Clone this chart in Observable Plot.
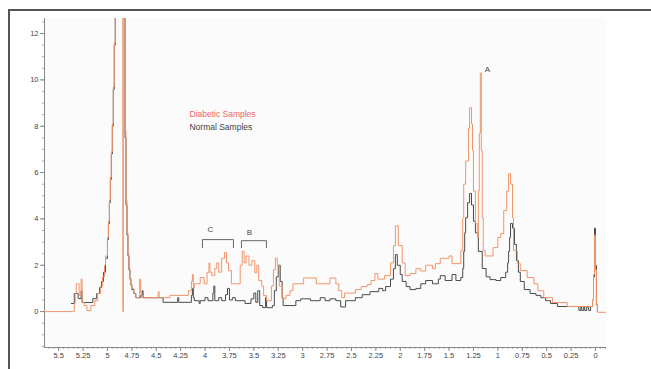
<!DOCTYPE html>
<html><head><meta charset="utf-8">
<script src="https://cdn.jsdelivr.net/npm/d3@7"></script>
<script src="https://cdn.jsdelivr.net/npm/@observablehq/plot@0.6"></script>
<style>
body{margin:0;background:#fff;font-family:"Liberation Sans",Arial,sans-serif}
#wrap{position:relative;width:651px;height:369px;overflow:hidden}
#border{position:absolute;left:8px;top:9px;width:700px;height:400px;border-left:2px solid #555;border-top:2px solid #555;pointer-events:none}
</style></head><body><div id="wrap"><div id="chart"></div><div id="border"></div></div>
<script>
// Normal samples (black)
const normalPpm = [5.37,5.34,5.30,5.27,5.26,5.15,5.11,5.08,5.06,5.04,5.02,5.00,4.99,4.98,4.97,4.96,4.95,4.94,4.93,4.92,4.91,4.90,4.88,4.84,4.83,4.82,4.81,4.80,4.79,4.78,4.77,4.76,4.75,4.73,4.71,4.66,4.645,4.635,4.43,4.28,4.27,4.14,4.13,4.12,4.11,4.06,4.05,4.00,3.97,3.92,3.91,3.90,3.86,3.83,3.79,3.77,3.75,3.72,3.69,3.59,3.53,3.50,3.48,3.46,3.44,3.41,3.38,3.37,3.31,3.29,3.27,3.25,3.23,3.21,3.20,3.13,3.07,3.02,2.92,2.82,2.77,2.72,2.66,2.61,2.56,2.46,2.39,2.31,2.22,2.18,2.15,2.10,2.07,2.05,2.03,2.00,1.98,1.94,1.90,1.84,1.79,1.74,1.67,1.61,1.59,1.54,1.47,1.43,1.38,1.36,1.35,1.34,1.33,1.31,1.29,1.27,1.25,1.23,1.20,1.16,1.12,1.08,1.02,0.97,0.92,0.90,0.89,0.88,0.87,0.85,0.83,0.81,0.79,0.77,0.73,0.67,0.61,0.56,0.51,0.46,0.39,0.17,0.15,0.14,0.12,0.11,0.09,0.07,0.05,0.03,0.02,0.01,0.00,-0.01,-0.02];
const normalInt = [0.35,0.78,0.56,0.9,0.39,0.56,0.78,1.04,1.3,1.7,2.3,3.1,3.8,4.7,5.7,6.8,8.0,9.6,11.5,14,18,25,40,40,14,7.5,4.6,3.3,2.4,1.8,1.4,1.15,0.95,0.78,0.6,0.7,0.9,0.6,0.4,0.6,0.4,0.7,1.0,0.6,0.47,0.35,0.47,0.6,0.47,0.8,1.1,0.47,0.6,0.47,0.73,1.0,0.5,0.6,0.47,0.35,0.55,0.8,0.4,0.9,0.26,0.17,0.6,0.17,0.26,0.9,1.5,2.0,1.3,0.6,0.26,0.26,0.47,0.55,0.47,0.6,0.47,0.55,0.47,0.2,0.47,0.6,0.73,0.86,1.0,0.9,1.08,1.4,1.85,2.46,2.0,1.6,1.3,1.08,0.95,1.0,1.2,1.34,1.2,1.4,1.55,1.34,1.6,1.34,1.47,1.86,2.6,3.4,4.05,4.7,5.1,4.6,3.9,3.4,2.6,1.86,1.5,1.38,1.34,1.47,1.7,2.1,2.6,3.2,3.8,3.6,2.9,2.2,1.7,1.3,0.95,0.78,0.7,0.6,0.47,0.35,0.22,0.05,0.2,0.05,0.2,0.05,0.2,0.05,0.22,0.5,1.5,3.6,2.0,0.3,0.0];

// Diabetic samples (orange)
const diabeticPpm = [5.645,5.36,5.34,5.33,5.32,5.29,5.27,5.26,5.24,5.21,5.17,5.13,5.10,5.07,5.05,5.03,5.02,5.00,4.99,4.98,4.97,4.96,4.95,4.94,4.93,4.92,4.91,4.90,4.88,4.842,4.838,4.83,4.82,4.81,4.80,4.79,4.78,4.77,4.76,4.75,4.73,4.71,4.67,4.66,4.65,4.48,4.47,4.36,4.17,4.14,4.13,4.12,4.11,4.05,4.01,3.98,3.96,3.95,3.93,3.90,3.88,3.86,3.83,3.80,3.78,3.76,3.73,3.64,3.62,3.60,3.58,3.55,3.52,3.49,3.47,3.45,3.42,3.40,3.37,3.32,3.30,3.28,3.26,3.24,3.21,3.17,3.13,3.10,2.99,2.86,2.72,2.66,2.63,2.60,2.57,2.46,2.40,2.34,2.30,2.26,2.23,2.16,2.10,2.07,2.05,2.02,1.98,1.95,1.90,1.84,1.79,1.74,1.67,1.64,1.59,1.50,1.47,1.38,1.36,1.35,1.33,1.30,1.29,1.27,1.26,1.25,1.23,1.21,1.20,1.19,1.18,1.17,1.16,1.15,1.13,1.05,1.00,0.97,0.94,0.91,0.89,0.87,0.85,0.84,0.80,0.77,0.70,0.63,0.59,0.53,0.44,0.29,0.03,0.02,0.01,0.00,-0.01,-0.02,-0.113];
const diabeticInt = [0,0,0.35,0.78,1.2,0.7,1.4,0.4,0.26,0.04,0.26,0.47,0.78,1.1,1.5,2.0,2.4,3.2,3.9,4.8,5.8,6.9,8.1,9.7,11.6,14,18,25,40,0,40,14.5,7.8,4.8,3.4,2.5,1.9,1.45,1.2,1.0,0.8,0.6,1.4,0.8,0.6,0.85,0.6,0.7,0.9,1.3,1.6,1.0,1.2,1.47,1.2,1.68,2.1,1.7,1.55,1.86,2.1,1.7,2.3,2.55,2.1,1.77,1.2,2.0,2.6,2.1,2.4,2.0,2.2,1.68,2.0,1.34,1.1,0.69,0.47,1.1,1.8,2.3,2.0,1.1,0.56,0.7,0.9,1.2,1.45,1.2,1.45,1.2,0.9,0.6,0.8,0.95,1.08,1.16,1.34,1.64,1.4,1.55,2.1,2.85,3.7,2.85,2.1,1.55,1.64,1.85,1.75,2.0,1.85,2.07,2.3,2.4,2.07,2.63,4.05,5.5,6.5,7.9,8.8,8.1,6.95,5.2,3.8,3.2,5.2,7.7,10.3,6.95,4.05,2.63,2.4,2.76,3.2,3.37,4.36,5.2,5.95,5.5,4.05,2.63,2.07,1.77,1.47,1.2,0.9,0.6,0.39,0.22,0.5,1.6,3.3,1.8,0.3,-0.03,-0.03];

const xTicks = [5.5,5.25,5,4.75,4.5,4.25,4,3.75,3.5,3.25,3,2.75,2.5,2.25,2,1.75,1.5,1.25,1,0.75,0.5,0.25,0];
const xTickLabels = ["5.5","5.25","5","4.75","4.5","4.25","4","3.75","3.5","3.25","3","2.75","2.5","2.25","2","1.75","1.5","1.25","1","0.75","0.5","0.25","0"];
const yTicks = [0,2,4,6,8,10,12];
const yTickLabels = ["0","2","4","6","8","10","12"];

const legendLabels = ["Diabetic Samples","Normal Samples"];
const legendColors = ["#f06464","#444"];
const legendX = [4.16,4.16];
const legendY = [8.5,7.94];

const noteLabels = ["A","B","C"];
const noteX = [1.107,3.545,3.945];
const noteY = [10.44,3.41,3.54];

const bracketNames = ["C","C","C","C","B","B","B","B"];
const bracketX = [4.027,4.027,3.709,3.709,3.627,3.627,3.371,3.371];
const bracketY = [2.76,3.107,3.107,2.76,2.76,3.06,3.06,2.76];

const xDomain = [5.645,-0.113];
const yDomain = [-1.55,12.65];

const normal = normalPpm.map((x,i)=>({x,y:normalInt[i]}));
const diabetic = diabeticPpm.map((x,i)=>({x,y:diabeticInt[i]}));
const legend = legendLabels.map((t,i)=>({t,x:legendX[i],y:legendY[i],c:legendColors[i]}));
const notes = noteLabels.map((t,i)=>({t,x:noteX[i],y:noteY[i]}));
const brackets = bracketNames.map((g,i)=>({g,x:bracketX[i],y:bracketY[i]}));

const xLab = new Map(xTicks.map((t,i)=>[t,xTickLabels[i]]));
const yLab = new Map(yTicks.map((t,i)=>[t,yTickLabels[i]]));
const xMinor = d3.range(-0.1,5.65,0.05).map(v=>Math.round(v*100)/100);
const yMinor = d3.range(-1.5,12.6,0.5);

const chart = Plot.plot({
  width:651, height:369,
  marginLeft:44, marginRight:45, marginTop:18, marginBottom:22,
  x:{domain:xDomain}, y:{domain:yDomain},
  style:{fontFamily:"'Liberation Sans', Arial, sans-serif", fontSize:"7.5px", color:"#444", background:"transparent"},
  marks:[
    Plot.frame({fill:"#fbfbfb", stroke:null}),
    Plot.axisX({ticks:xMinor, tickSize:2, stroke:"#aaa", tickFormat:()=>"", label:null}),
    Plot.axisX({ticks:xTicks, tickSize:4, tickPadding:1, stroke:"#888", tickFormat:d=>xLab.get(d), label:null}),
    Plot.axisY({ticks:yMinor, tickSize:2, stroke:"#aaa", tickFormat:()=>"", label:null}),
    Plot.axisY({ticks:yTicks, tickSize:4, tickPadding:2, stroke:"#888", tickFormat:d=>yLab.get(d), label:null}),
    Plot.ruleX([xDomain[0]], {stroke:"#888"}),
    Plot.ruleY([yDomain[0]], {stroke:"#888"}),
    Plot.line(normal, {x:"x", y:"y", curve:"step-after", stroke:"#4a4a4a", strokeWidth:1, clip:true}),
    Plot.line(diabetic, {x:"x", y:"y", curve:"step-after", stroke:"#f29567", strokeWidth:1, clip:true}),
    Plot.line(brackets, {x:"x", y:"y", z:"g", stroke:"#666", strokeWidth:1}),
    Plot.text(notes, {x:"x", y:"y", text:"t", fill:"#444", fontSize:8}),
    Plot.text(legend, {x:"x", y:"y", text:"t", fill:"c", textAnchor:"start", fontSize:8.5})
  ]
});
document.getElementById("chart").appendChild(chart);
</script>
</body></html>
